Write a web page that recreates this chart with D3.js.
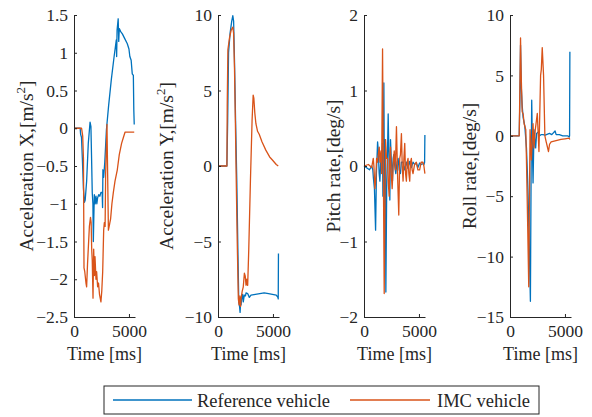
<!DOCTYPE html>
<html>
<head>
<meta charset="utf-8">
<script src="https://cdn.jsdelivr.net/npm/d3@7"></script>
<style>
	body { margin: 0; background: #fff; }
	svg { display: block; }
</style>
</head>
<body>
<svg width="592" height="417" font-family="Liberation Serif"></svg>
<script>
// @ Data  [time ms, value]
const accXRef = [[0,0],[560,0],[600,-0.08],[680,-0.12],[760,-0.4],[860,-0.8],[950,-0.98],[1020,-0.95],[1150,-0.7],[1300,-0.2],[1460,0.08],[1540,0.02],[1600,-0.4],[1660,-0.85],[1720,-1.0],[1760,-1.5],[1800,-1.2],[1850,-0.88],[1930,-1.0],[2000,-0.9],[2080,-1.0],[2150,-0.92],[2250,-0.88],[2350,-0.9],[2450,-0.85],[2560,-0.85],[2600,-1.05],[2630,-0.55],[2700,-0.65],[2800,-0.45],[2950,-0.02],[3150,0.3],[3400,0.65],[3650,0.95],[3850,1.17],[3880,0.95],[3920,1.3],[4020,1.45],[4070,1.15],[4120,1.32],[4250,1.28],[4400,1.25],[4640,1.18],[4850,1.12],[5000,1.05],[5080,0.95],[5200,0.9],[5300,0.72],[5400,0.7],[5440,0.25],[5480,0.05]];
const accXImc = [[0,0],[690,0],[790,-0.1],[860,-0.4],[910,-1.85],[980,-1.9],[1090,-2.05],[1150,-2.1],[1230,-1.8],[1400,-1.3],[1500,-1.18],[1560,-1.25],[1610,-1.6],[1660,-1.75],[1730,-2.25],[1790,-1.6],[1860,-1.95],[1910,-1.7],[2000,-2.0],[2060,-1.9],[2150,-2.1],[2230,-2.05],[2320,-2.2],[2450,-2.3],[2530,-2.15],[2610,-1.9],[2700,-1.35],[2760,-1.25],[2830,-1.3],[2880,-0.6],[3000,0.05],[3060,-0.6],[3130,-1.35],[3200,-1.3],[3330,-1.2],[3450,-1.0],[3580,-0.85],[3730,-0.7],[3940,-0.55],[4120,-0.35],[4330,-0.2],[4500,-0.12],[4650,-0.05],[5480,-0.05]];

const accYRef = [[0,0],[810,0],[880,3],[960,7.5],[1100,8.8],[1250,9.6],[1350,9.95],[1420,9.6],[1500,7],[1600,3],[1710,-1],[1820,-6],[1890,-9],[1960,-9.3],[2010,-9.7],[2060,-9.0],[2100,-9.2],[2180,-8.6],[2250,-8.5],[2300,-9.0],[2340,-8.8],[2400,-8.55],[2500,-8.6],[2550,-8.4],[2700,-8.45],[2850,-8.7],[3000,-8.55],[3400,-8.5],[3800,-8.45],[4200,-8.4],[4600,-8.45],[4950,-8.5],[5300,-8.55],[5450,-8.7],[5480,-8.8],[5500,-5.8]];
const accYImc = [[0,0],[810,0],[840,4],[900,7.7],[1050,8.5],[1200,9.0],[1350,9.2],[1420,8.8],[1500,6.5],[1580,3],[1650,-0.5],[1750,-5],[1850,-8.8],[1920,-9.2],[1990,-8.6],[2050,-9.3],[2100,-8.8],[2200,-8.3],[2300,-8.0],[2400,-7.1],[2480,-7.3],[2550,-7.9],[2620,-7.5],[2700,-7.9],[2800,-5.5],[2950,-1],[3100,3],[3200,4.7],[3260,4.5],[3350,3.5],[3450,2.8],[3600,2.3],[3750,2.1],[4000,1.6],[4350,1.05],[4700,0.6],[4950,0.4],[5300,0.1],[5480,0]];

const pitchRef = [[0,0],[300,-0.03],[500,-0.05],[700,0.0],[800,-0.05],[850,-0.15],[950,-0.3],[1055,-0.85],[1130,-0.1],[1236,0.32],[1300,0.2],[1380,-0.1],[1447,-0.2],[1520,0.05],[1597,0.0],[1680,0.3],[1720,-0.4],[1808,1.1],[1870,-0.7],[1930,0.35],[1989,-1.67],[2070,-0.2],[2140,0.2],[2200,0.69],[2270,0.1],[2350,-0.45],[2411,0.35],[2480,0.1],[2592,-0.2],[2650,0.1],[2712,0.15],[2800,0],[2893,-0.1],[3000,0.05],[3104,0.1],[3200,-0.05],[3315,-0.1],[3400,0.05],[3556,0.05],[3700,-0.05],[3857,0.05],[4000,-0.03],[4159,0.06],[4300,-0.02],[4460,0.05],[4600,0.02],[4761,0.04],[4900,-0.02],[5062,0.04],[5200,0.02],[5364,0.03],[5450,0.02],[5514,0.05],[5540,0.41]];
const pitchImc = [[0,0],[400,0.02],[700,-0.02],[844,0.1],[900,0],[994,-0.3],[1060,-0.2],[1145,0.1],[1236,0.05],[1300,0.15],[1386,0.25],[1450,0.05],[1550,0.2],[1600,-0.1],[1688,1.55],[1838,-1.69],[1959,0.35],[2050,0.1],[2140,0.1],[2200,-0.2],[2290,-0.4],[2350,0.1],[2411,0.25],[2480,-0.1],[2562,-0.3],[2650,0],[2750,0.2],[2850,-0.05],[2953,0.52],[3050,-0.1],[3164,-0.65],[3250,0.1],[3315,0.15],[3405,0.43],[3480,0.0],[3556,-0.2],[3630,0.1],[3707,0.3],[3780,-0.1],[3857,-0.2],[3930,0.05],[4008,0.1],[4080,-0.1],[4159,-0.2],[4230,0.05],[4310,0.1],[4380,-0.05],[4460,-0.1],[4600,0.02],[4761,0.05],[4900,-0.05],[5062,-0.05],[5200,0.05],[5364,0.05],[5450,0.0],[5540,-0.1]];

const rollRef = [[0,0],[838,0],[900,3],[958,7.5],[1030,4],[1108,2.5],[1197,1.5],[1347,0.8],[1497,-1],[1580,-3],[1647,-5],[1750,-9],[1856,-13.7],[1920,-3],[1976,2.95],[2040,-1],[2096,-3.9],[2185,0.5],[2260,-0.3],[2335,-1.0],[2420,0.2],[2544,0.3],[2694,0],[2850,0.1],[2993,0.1],[3200,0.05],[3592,0.2],[3800,0.1],[4101,0.4],[4200,0.1],[4490,0.1],[4800,0.0],[5239,0],[5390,-0.1],[5420,0],[5448,6.95]];
const rollImc = [[0,0],[838,0],[900,4],[958,8.1],[1020,5],[1108,2.0],[1197,1.8],[1287,1.0],[1437,0.5],[1497,-2],[1600,-7],[1706,-12.5],[1760,-6],[1826,0.5],[1946,-2],[2096,1],[2185,-1],[2300,0.5],[2485,1.85],[2634,-1.3],[2784,5.0],[2850,5.5],[2933,7.3],[3053,5],[3173,0],[3293,-0.5],[3502,-1.3],[3600,-0.7],[3742,-0.5],[4191,-0.4],[4640,-0.3],[5000,-0.25],[5388,-0.2],[5440,-0.3]];

const seriesNames = ["Reference vehicle", "IMC vehicle"];
const seriesColors = ["#0072BD", "#D95319"];

const yLabels = ["Acceleration X,[m/s", "Acceleration Y,[m/s", "Pitch rate,[deg/s]", "Roll rate,[deg/s]"];
const yDomains = [[-2.5, 1.5], [-10, 10], [-2, 2], [-15, 10]];
const yTicks = [
	[-2.5, -2, -1.5, -1, -0.5, 0, 0.5, 1, 1.5],
	[-10, -5, 0, 5, 10],
	[-2, -1, 0, 1, 2],
	[-15, -10, -5, 0, 5, 10],
];
const xTicks = [0, 5000];
const xDomain = [0, 5550];

// @ Layout
const panelLeft = [74, 218, 364, 510];
const labelOffset = [41, 45, 24, 34];
const plotW = 61;
const plotTop = 15;
const plotBottom = 317;
const axisColor = "#262626";
const font = "Liberation Serif";

const panels = [
	{ ref: accXRef, imc: accXImc, sup: true },
	{ ref: accYRef, imc: accYImc, sup: true },
	{ ref: pitchRef, imc: pitchImc, sup: false },
	{ ref: rollRef, imc: rollImc, sup: false },
];

const svg = d3.select("svg");

panels.forEach((p, i) => {
	const x = d3.scaleLinear().domain(xDomain).range([0, plotW]);
	const y = d3.scaleLinear().domain(yDomains[i]).range([plotBottom - plotTop, 0]);

	const g = svg.append("g").attr("transform", `translate(${panelLeft[i]},${plotTop})`);

	const line = d3
		.line()
		.x((d) => x(d[0]))
		.y((d) => y(d[1]));

	[p.ref, p.imc].forEach((s, k) => {
		g.append("path")
			.datum(s)
			.attr("d", line)
			.attr("fill", "none")
			.attr("stroke", seriesColors[k])
			.attr("stroke-width", 1.3)
			.attr("stroke-linejoin", "round");
	});

	// axes (ticks inside, MATLAB style)
	const yAxis = d3
		.axisLeft(y)
		.tickValues(yTicks[i])
		.tickFormat(d3.format(""))
		.tickSizeInner(-3)
		.tickSizeOuter(0)
		.tickPadding(6);
	const xAxis = d3
		.axisBottom(x)
		.tickValues(xTicks)
		.tickFormat(d3.format(""))
		.tickSizeInner(-3)
		.tickSizeOuter(0)
		.tickPadding(8);

	const gy = g.append("g").call(yAxis);
	const gx = g.append("g").attr("transform", `translate(0,${plotBottom - plotTop})`).call(xAxis);

	[gx, gy].forEach((a) => {
		a.attr("font-family", font).attr("font-size", 17.5);
		a.select(".domain").attr("stroke", axisColor).attr("stroke-width", 1);
		a.selectAll(".tick line").attr("stroke", axisColor);
		a.selectAll(".tick text").attr("fill", axisColor);
	});
	gx.selectAll(".tick text").attr("dy", "0.71em");

	// y label
	const yl = g
		.append("text")
		.attr("transform", `translate(${-labelOffset[i]},${(plotBottom - plotTop) / 2})rotate(-90)`)
		.attr("text-anchor", "middle")
		.attr("fill", axisColor)
		.attr("font-family", font)
		.attr("font-size", 19.5);
	yl.append("tspan").text(yLabels[i]);
	if (p.sup) {
		yl.append("tspan").text("2").attr("dy", -8).attr("font-size", 13);
		yl.append("tspan").text("]").attr("dy", 8);
	}

	// x label
	g.append("text")
		.attr("x", plotW / 2)
		.attr("y", plotBottom - plotTop + 43)
		.attr("text-anchor", "middle")
		.attr("fill", axisColor)
		.attr("font-family", font)
		.attr("font-size", 18)
		.text("Time [ms]");
});

// @ Legend
const legend = svg.append("g");
legend
	.append("rect")
	.attr("x", 104)
	.attr("y", 386)
	.attr("width", 435)
	.attr("height", 28)
	.attr("fill", "#fff")
	.attr("stroke", axisColor)
	.attr("stroke-width", 1);

const legendItems = [
	{ x1: 113, x2: 192, tx: 197 },
	{ x1: 350, x2: 430, tx: 437 },
];
legendItems.forEach((d, k) => {
	legend
		.append("line")
		.attr("x1", d.x1)
		.attr("x2", d.x2)
		.attr("y1", 400)
		.attr("y2", 400)
		.attr("stroke", seriesColors[k])
		.attr("stroke-width", 1.3);
	legend
		.append("text")
		.attr("x", d.tx)
		.attr("y", 406.5)
		.attr("fill", axisColor)
		.attr("font-family", font)
		.attr("font-size", 18.5)
		.text(seriesNames[k]);
});
</script>
</body>
</html>
